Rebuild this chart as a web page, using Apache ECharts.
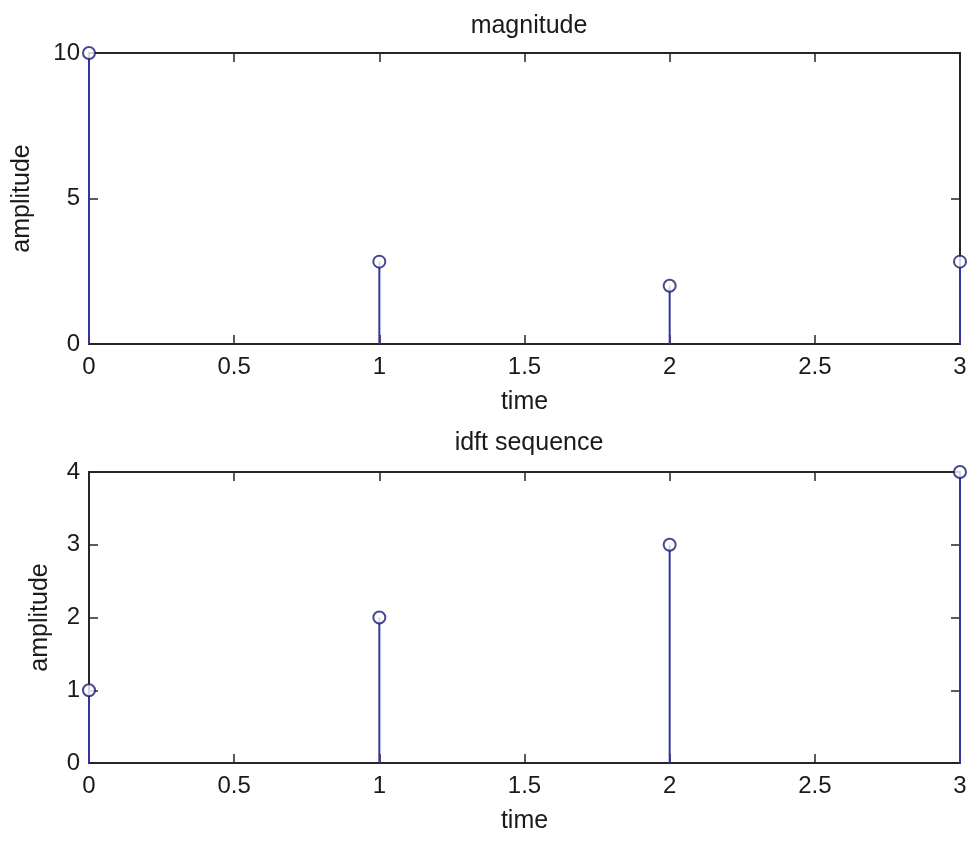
<!DOCTYPE html>
<html lang="en">
<head>
    <meta charset="UTF-8">
    <title>magnitude / idft sequence</title>
    <style>
        html, body {
            margin: 0;
            padding: 0;
            background: #fff;
        }

        #chart {
            width: 973px;
            height: 842px;
        }
    </style>
</head>
<body>
<div id="chart"></div>
<script src="https://cdn.jsdelivr.net/npm/echarts@6/dist/echarts.min.js"></script>
<script>

    // sample index
    var timeValues = [0, 1, 2, 3];
    // |X(k)| of the DFT
    var magnitudeValues = [10, 2.83, 2, 2.83];
    // recovered sequence from the idft
    var idftValues = [1, 2, 3, 4];

    var stemColor = '#34349a';
    var markColor = '#1a1a70';
    var axisColor = '#262626';
    var textColor = '#1a1a1a';
    var font = 'Liberation Sans, Arial, sans-serif';

    var pairs = function (ys) {
        return timeValues.map(function (t, i) {
            return [t, ys[i]];
        });
    };

    var xAxisPair = function (grid) {
        var base = {
            gridIndex: grid,
            type: 'value',
            min: 0,
            max: 3,
            interval: 0.5,
            splitLine: {show: false},
            axisLine: {onZero: false, lineStyle: {color: axisColor, width: 2}},
            axisTick: {inside: true, length: 9, lineStyle: {color: axisColor, width: 1.5}}
        };
        var bottom = Object.assign({}, base, {
            position: 'bottom',
            name: 'time',
            nameLocation: 'middle',
            nameGap: 46,
            nameTextStyle: {color: textColor, fontSize: 25, fontFamily: font},
            axisLabel: {color: textColor, fontSize: 24, fontFamily: font, margin: 11}
        });
        var top = Object.assign({}, base, {
            position: 'top',
            axisLabel: {show: false}
        });
        return [bottom, top];
    };

    var yAxisPair = function (grid, max, step, gap) {
        var base = {
            gridIndex: grid,
            type: 'value',
            min: 0,
            max: max,
            interval: step,
            splitLine: {show: false},
            axisLine: {show: true, onZero: false, lineStyle: {color: axisColor, width: 2}},
            axisTick: {show: true, inside: true, length: 9, lineStyle: {color: axisColor, width: 1.5}}
        };
        var left = Object.assign({}, base, {
            position: 'left',
            name: 'amplitude',
            nameLocation: 'middle',
            nameGap: gap,
            nameTextStyle: {color: textColor, fontSize: 25, fontFamily: font},
            axisLabel: {color: textColor, fontSize: 24, fontFamily: font, margin: 9}
        });
        var right = Object.assign({}, base, {
            position: 'right',
            axisLabel: {show: false}
        });
        return [left, right];
    };

    var stems = function (axis, ys) {
        return [
            {
                type: 'bar',
                xAxisIndex: axis,
                yAxisIndex: axis,
                barWidth: 2,
                itemStyle: {color: stemColor},
                silent: true,
                data: pairs(ys)
            },
            {
                type: 'scatter',
                xAxisIndex: axis,
                yAxisIndex: axis,
                symbol: 'emptyCircle',
                symbolSize: 12,
                itemStyle: {color: markColor, borderColor: markColor, borderWidth: 1.5},
                clip: false,
                data: pairs(ys)
            }
        ];
    };

    var titleStyle = {color: textColor, fontSize: 25, fontWeight: 'normal', fontFamily: font};

    var option = {
        animation: false,
        backgroundColor: '#fff',
        title: [
            {text: 'magnitude', left: 524, top: 9, textAlign: 'center', textStyle: titleStyle},
            {text: 'idft sequence', left: 524, top: 426, textAlign: 'center', textStyle: titleStyle}
        ],
        grid: [
            {left: 89, right: 13, top: 53, height: 291},
            {left: 89, right: 13, top: 472, height: 291}
        ],
        xAxis: xAxisPair(0).concat(xAxisPair(1)),
        yAxis: yAxisPair(0, 10, 5, 54).concat(yAxisPair(1, 4, 1, 36)),
        series: stems(0, magnitudeValues).concat(stems(2, idftValues))
    };

    var myChart = echarts.init(document.getElementById('chart'));
    myChart.setOption(option);
</script>
</body>
</html>
